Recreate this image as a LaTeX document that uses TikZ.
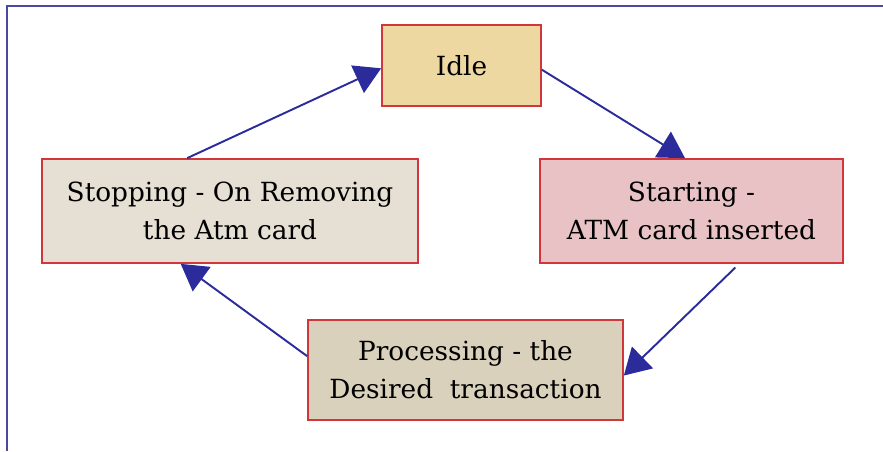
\documentclass[tikz,border=0pt]{standalone}
\usepackage{fontspec}
\setmainfont{DejaVu Serif}
\usetikzlibrary{arrows.meta}
\definecolor{framecol}{HTML}{4A4A9A}
\definecolor{arrowcol}{HTML}{2B2B9C}
\definecolor{boxline}{HTML}{D0363A}
\definecolor{idlefill}{HTML}{EED8A2}
\definecolor{startfill}{HTML}{E8C2C5}
\definecolor{stopfill}{HTML}{E6DFD3}
\definecolor{procfill}{HTML}{DAD1BD}
\tikzset{
    statebox/.style={draw=boxline,line width=1pt,align=center,inner sep=0pt,
        font=\fontsize{15}{21.5}\selectfont},
    trans/.style={draw=arrowcol,line width=1.1pt,
        -{Triangle[length=0.52cm,width=0.6cm]}}
}
\begin{document}
\begin{tikzpicture}
    [x=0.02cm,y=-0.02cm]
    \useasboundingbox (0,0) rectangle (883,451);
    %frame
    \draw[framecol,line width=1.4pt] (7,451)--(7,6)--(883,6);
    %states
    \node[statebox,fill=idlefill,minimum width=3.18cm,minimum height=1.62cm]
        (idle) at (461.5,65.5) {Idle};
    \node[statebox,fill=startfill,minimum width=6.06cm,minimum height=2.08cm]
        (start) at (691.5,211) {Starting -\\ATM card inserted};
    \node[statebox,fill=stopfill,minimum width=7.52cm,minimum height=2.08cm]
        (stop) at (230,211) {Stopping - On Removing\\the Atm card};
    \node[statebox,fill=procfill,minimum width=6.3cm,minimum height=2cm]
        (proc) at (465.5,370) {Processing - the\\Desired~ transaction};
    %transitions
    \draw[trans] (idle.-3)--(start.97);
    \draw[trans,shorten <=3pt] (start.-48)--(proc.-2);
    \draw[trans] (proc.175)--(stop.227);
    \draw[trans] (stop.129)--(idle.182);
\end{tikzpicture}
\end{document}
